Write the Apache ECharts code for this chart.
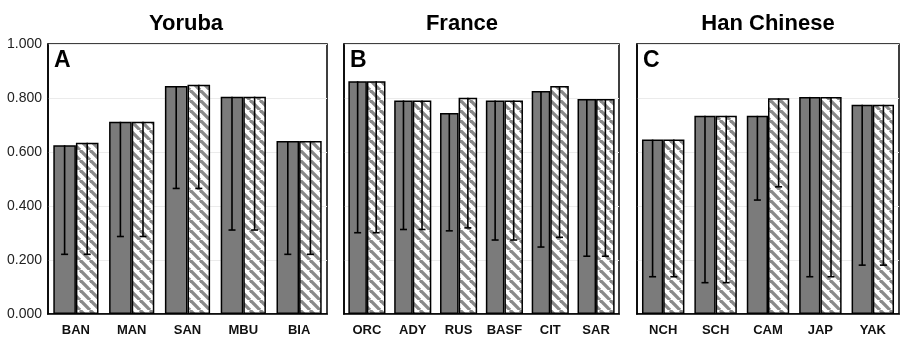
<!DOCTYPE html>
<html>
<head>
<meta charset="utf-8">
<script src="https://cdn.jsdelivr.net/npm/echarts@6/dist/echarts.min.js"></script>
<style>html,body{margin:0;padding:0;background:#fff}#c{width:900px;height:337px}</style>
</head>
<body>
<div id="c"></div>
<script>
var titles = ['Yoruba', 'France', 'Han Chinese'];
var panelLetters = ['A', 'B', 'C'];
var yTicks = [0, 0.2, 0.4, 0.6, 0.8, 1.0];

var catsA = ['BAN', 'MAN', 'SAN', 'MBU', 'BIA'];
var solidA = [0.625, 0.712, 0.844, 0.805, 0.641];
var hatchA = [0.634, 0.712, 0.849, 0.805, 0.641];
var lowSolidA = [0.221, 0.287, 0.465, 0.311, 0.221];
var lowHatchA = [0.221, 0.287, 0.465, 0.311, 0.221];

var catsB = ['ORC', 'ADY', 'RUS', 'BASF', 'CIT', 'SAR'];
var solidB = [0.862, 0.791, 0.744, 0.791, 0.826, 0.796];
var hatchB = [0.862, 0.791, 0.801, 0.791, 0.844, 0.796];
var lowSolidB = [0.301, 0.313, 0.308, 0.274, 0.248, 0.214];
var lowHatchB = [0.301, 0.313, 0.319, 0.274, 0.284, 0.214];

var catsC = ['NCH', 'SCH', 'CAM', 'JAP', 'YAK'];
var solidC = [0.646, 0.734, 0.734, 0.804, 0.775];
var hatchC = [0.646, 0.734, 0.799, 0.804, 0.775];
var lowSolidC = [0.138, 0.116, 0.422, 0.138, 0.181];
var lowHatchC = [0.138, 0.116, 0.471, 0.138, 0.181];

var panels = [
  {cats: catsA, solid: solidA, hatch: hatchA, lowS: lowSolidA, lowH: lowHatchA},
  {cats: catsB, solid: solidB, hatch: hatchB, lowS: lowSolidB, lowH: lowHatchB},
  {cats: catsC, solid: solidC, hatch: hatchC, lowS: lowSolidC, lowH: lowHatchC}
];

// layout
var gridBoxes = [
  {left: 48, width: 279},
  {left: 344, width: 275},
  {left: 637, width: 262}
];
var titlePos = [186, 462, 768];
var CAT_GAP = 0.19;

// hatch pattern
function makeHatch() {
  var s = 10;
  var cv = document.createElement('canvas');
  cv.width = s; cv.height = s;
  var ctx = cv.getContext('2d');
  ctx.fillStyle = '#ffffff';
  ctx.fillRect(0, 0, s, s);
  ctx.strokeStyle = '#8a8a8a';
  ctx.lineWidth = 3.3;
  [-s, 0, s].forEach(function (k) {
    ctx.beginPath();
    ctx.moveTo(k, 0);
    ctx.lineTo(k + s, s);
    ctx.stroke();
  });
  return cv;
}
var hatchCanvas = makeHatch();

var chart = echarts.init(document.getElementById('c'), null, {renderer: 'canvas'});

var grids = [], xAxes = [], yAxes = [], series = [], graphics = [];

panels.forEach(function (p, i) {
  grids.push({
    left: gridBoxes[i].left, width: gridBoxes[i].width, top: 44, height: 272,
    show: true, borderColor: '#000', borderWidth: 1.5, backgroundColor: 'transparent'
  });
  xAxes.push({
    type: 'category', gridIndex: i, data: p.cats,
    axisLine: {show: true, lineStyle: {color: '#000', width: 1.5}},
    axisTick: {show: false},
    axisLabel: {color: '#111', fontFamily: 'Liberation Sans, Arial', fontWeight: 'bold', fontSize: 13, margin: 10, interval: 0}
  });
  yAxes.push({
    type: 'value', gridIndex: i, min: 0, max: 1, interval: 0.2,
    axisLine: {show: true, lineStyle: {color: '#000', width: 1.5}},
    axisTick: {show: false},
    splitLine: {show: true, lineStyle: {color: '#ebebeb', width: 1}},
    axisLabel: {
      show: i === 0, color: '#222', fontFamily: 'Liberation Sans, Arial', fontSize: 14, margin: 6,
      formatter: function (v) { return v.toFixed(3); }
    }
  });
  series.push({
    type: 'bar', xAxisIndex: i, yAxisIndex: i, data: p.solid,
    barGap: '0%', barCategoryGap: (CAT_GAP * 100) + '%',
    itemStyle: {color: '#7b7b7b', borderColor: '#000', borderWidth: 1.5},
    silent: true
  });
  series.push({
    type: 'bar', xAxisIndex: i, yAxisIndex: i, data: p.hatch,
    barGap: '0%', barCategoryGap: (CAT_GAP * 100) + '%',
    itemStyle: {color: {image: hatchCanvas, repeat: 'repeat'}, borderColor: '#000', borderWidth: 1.5},
    silent: true
  });
  var errData = [];
  p.cats.forEach(function (c, k) {
    errData.push([k, p.solid[k], p.lowS[k], -1]);
    errData.push([k, p.hatch[k], p.lowH[k], 1]);
  });
  series.push({
    type: 'custom', xAxisIndex: i, yAxisIndex: i, data: errData, z: 5, silent: true,
    renderItem: function (params, api) {
      var k = api.value(0);
      var top = api.coord([k, api.value(1)]);
      var low = api.coord([k, api.value(2)]);
      var band = api.size([1, 0])[0];
      var bw = band * (1 - CAT_GAP) / 2;
      var x = top[0] + api.value(3) * bw / 2;
      var cap = 3.5;
      return {
        type: 'group',
        children: [
          {type: 'line', shape: {x1: x, y1: top[1], x2: x, y2: low[1]}, style: {stroke: '#000', lineWidth: 1.6}},
          {type: 'line', shape: {x1: x - cap, y1: low[1], x2: x + cap, y2: low[1]}, style: {stroke: '#000', lineWidth: 1.6}}
        ]
      };
    }
  });
  graphics.push({
    type: 'text', x: titlePos[i], y: 24,
    style: {text: titles[i], font: 'bold 22px "Liberation Sans", Arial', fill: '#000', textAlign: 'center', textVerticalAlign: 'middle'}
  });
  graphics.push({
    type: 'text', x: gridBoxes[i].left + 6, y: 61,
    style: {text: panelLetters[i], font: 'bold 23px "Liberation Sans", Arial', fill: '#000', textAlign: 'left', textVerticalAlign: 'middle'}
  });
});

chart.setOption({
  animation: false,
  backgroundColor: '#fff',
  grid: grids,
  xAxis: xAxes,
  yAxis: yAxes,
  series: series,
  graphic: graphics
});
</script>
</body>
</html>
